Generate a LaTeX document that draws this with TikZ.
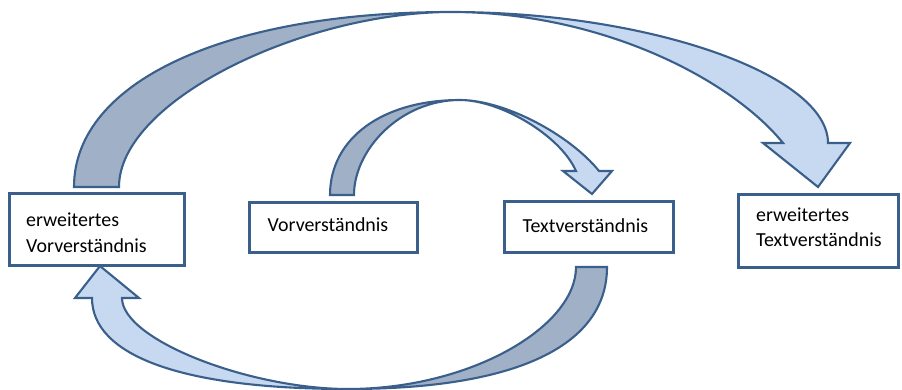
\documentclass[tikz,border=0pt]{standalone}
\usepackage{fontspec}
\setmainfont{Carlito}
\definecolor{edge}{HTML}{3A5F8B}
\definecolor{back}{HTML}{9FB0C7}
\definecolor{front}{HTML}{C6D9F0}
\newcommand{\twolines}[2]{\begin{tabular}[t]{@{}l@{}}#1\\#2\end{tabular}}
\begin{document}
\begin{tikzpicture}[x=1pt,y=-1pt,
  box/.style={draw=edge, line width=2.1pt, rectangle, inner sep=0pt},
  boxtext/.style={inner sep=0pt, anchor=base west, font=\fontsize{19.9}{25.5}\selectfont},
  backface/.style={fill=back, draw=edge, line width=2.1pt},
  frontface/.style={fill=front, draw=edge, line width=2.1pt}]
\useasboundingbox (0,0) rectangle (902,390);

% boxes
\node[box, minimum width=175pt, minimum height=72pt] (A) at (97,229.5) {};
\node[box, minimum width=168pt, minimum height=50pt] (B) at (333.5,227.5) {};
\node[box, minimum width=169pt, minimum height=51pt] (C) at (589,227) {};
\node[box, minimum width=160pt, minimum height=73pt] (D) at (818.5,231) {};

% texts
\node[boxtext] (At) at (26,226.5) {\twolines{erweitertes}{Vorverständnis}};
\node[boxtext] (Bt) at (267.5,232) {Vorverständnis};
\node[boxtext] (Ct) at (522.5,232.5) {Textverständnis};
\node[boxtext] (Dt) at (756,221.5) {\twolines{erweitertes}{Textverständnis}};

% top arrow: erweitertes Vorverständnis -> erweitertes Textverständnis
\draw[backface] (74,187) .. controls (74,82) and (225,12) .. (451,12)
   .. controls (305,12) and (119,100) .. (119,187) -- cycle;
\draw[frontface] (451,12) .. controls (650,12) and (828,75) .. (828,143)
   -- (850,143) -- (818,187) -- (763,143) -- (783,143)
   .. controls (730,78) and (600,12) .. (451,12) -- cycle;

% middle arrow: Vorverständnis -> Textverständnis
\draw[backface] (330,195) .. controls (330,138) and (383,100) .. (460,100)
   .. controls (400,100) and (354,150) .. (354,195) -- cycle;
\draw[frontface] (460,100) .. controls (505,100) and (570,135) .. (599,171)
   -- (612,171) -- (592,194) -- (563,171) -- (576,171)
   .. controls (560,135) and (500,100) .. (460,100) -- cycle;

% bottom arrow: Textverständnis -> erweitertes Vorverständnis
\draw[backface] (607,267) .. controls (607,346) and (516,389) .. (348,389)
   .. controls (470,389) and (576,327) .. (576,267) -- cycle;
\draw[frontface] (348,389) .. controls (180,389) and (92,355) .. (92,298)
   -- (75,298) -- (100,266) -- (139,298) -- (122,298)
   .. controls (122,340) and (250,389) .. (348,389) -- cycle;
\end{tikzpicture}
\end{document}
